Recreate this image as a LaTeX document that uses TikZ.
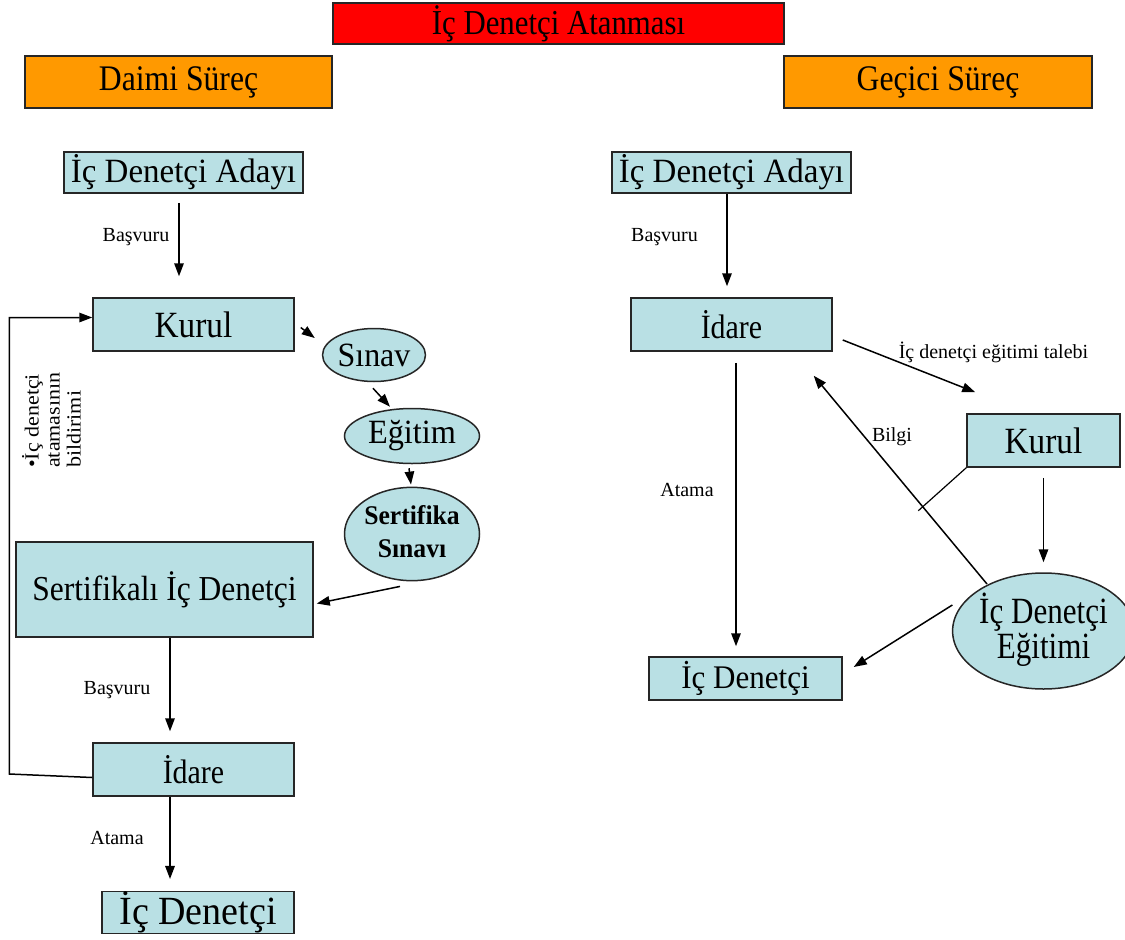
\documentclass[tikz,border=0pt]{standalone}
\usepackage{graphicx}
\usepackage{fontspec}
\setmainfont{Liberation Serif}
\usetikzlibrary{arrows.meta,shapes.geometric}
\definecolor{boxblue}{RGB}{185,224,228}
\definecolor{orng}{RGB}{255,153,0}
\newcommand\txt[3]{\fontsize{#1}{#1}\selectfont\scalebox{#2}[1]{#3}}
\newcommand\mtxt[4]{\fontsize{#1}{#2}\selectfont\scalebox{#3}[1]{\begin{tabular}{@{}c@{}}#4\end{tabular}}}
\begin{document}
\begin{tikzpicture}[x=1pt,y=-1pt,
  box/.style={draw=black!85,line width=1.5pt,fill=boxblue,inner sep=0pt},
  hdr/.style={draw=black!85,line width=1.5pt,inner sep=0pt},
  oval/.style={ellipse,draw=black!85,line width=1.5pt,fill=boxblue,inner sep=0pt},
  arr/.style={-{Triangle[length=13pt,width=9.5pt]},line width=1.5pt},
  lbl/.style={font=\fontsize{20}{20}\selectfont,inner sep=0pt}]
\useasboundingbox (0,0) rectangle (1125,940);

% headers
\node[hdr,fill=red,minimum width=451,minimum height=41] (title) at (558.5,23.5) {\txt{35}{0.88}{İç Denetçi Atanması}};
\node[hdr,fill=orng,minimum width=307,minimum height=52] (daimi) at (178.5,82) {\txt{36}{0.88}{Daimi Süreç}};
\node[hdr,fill=orng,minimum width=308,minimum height=52] (gecici) at (938,82) {\txt{36}{0.88}{Geçici Süreç}};

% left column
\node[box,minimum width=239,minimum height=41] (adayL) at (183.5,172.5) {\txt{34}{0.97}{İç Denetçi Adayı}};
\node[box,minimum width=201,minimum height=53] (kurulL) at (193.5,324.5) {\txt{37}{0.9}{Kurul}};
\node[oval,minimum width=77,minimum height=53] (sinav) at (374,355) {\txt{34}{0.94}{Sınav}};
\node[oval,minimum width=135,minimum height=55] (egitim) at (412,436) {\txt{34}{0.95}{Eğitim}};
\node[oval,minimum width=135,minimum height=68] (sert) at (412,534) {\bfseries\mtxt{27}{33}{0.95}{Sertifika\\Sınavı}};
\node[box,minimum width=297,minimum height=95] (sertL) at (164.5,589.5) {\txt{35}{0.9}{Sertifikalı İç Denetçi}};
\node[box,minimum width=201,minimum height=53] (idareL) at (193.5,769.5) {\txt{34}{0.88}{İdare}};
\node[box,minimum width=192,minimum height=41] (icL) at (198,912.5) {\txt{40}{0.95}{İç Denetçi}};

% right column
\node[box,minimum width=239,minimum height=41] (adayR) at (731.5,172.5) {\txt{34}{0.97}{İç Denetçi Adayı}};
\node[box,minimum width=201,minimum height=53] (idareR) at (731.5,324.5) {\txt{34}{0.88}{İdare}};
\node[box,minimum width=153,minimum height=53] (kurulR) at (1043.5,440.5) {\txt{37}{0.9}{Kurul}};
\node[oval,minimum width=153,minimum height=116] (egitimR) at (1043.5,631) {\mtxt{37}{35}{0.84}{İç Denetçi\\Eğitimi}};
\node[box,minimum width=193,minimum height=43] (icR) at (745.5,678.5) {\txt{33}{0.94}{İç Denetçi}};

% labels
\node[lbl] (bas1) at (136,237) {Başvuru};
\node[lbl] (bas2) at (117,690) {Başvuru};
\node[lbl] (atamaL) at (117,838) {Atama};
\node[lbl] (bas3) at (664.5,237) {Başvuru};
\node[lbl] (atamaR) at (687,490) {Atama};
\node[lbl] (bilgi) at (892,437) {Bilgi};
\node[lbl] (talep) at (993.5,352) {İç denetçi eğitimi talebi};
\node[inner sep=0pt,rotate=90,anchor=north west] (bildir) at (22,468)
  {\fontsize{20}{21}\selectfont\scalebox{1.1}[1]{\begin{tabular}{@{}l@{}}•İç denetçi\\atamasının\\bildirimi\end{tabular}}};

% left connectors
\draw[arr] ([shift={(-4.5,9)}]adayL.south) -- ([shift={(-14.5,-21)}]kurulL.north);
\draw[arr] ([shift={(6,3)}]kurulL.east) -- ([shift={(-7,-17)}]sinav.west);
\draw[arr] ([shift={(-1,6)}]sinav.south) -- ([shift={(-22,-1)}]egitim.north);
\draw[arr] ([shift={(-3,4)}]egitim.south) -- ([shift={(-1,-2)}]sert.north);
\draw[arr] ([shift={(-12,5)}]sert.south) -- ([shift={(3,14)}]sertL.east);
\draw[arr] ([shift={(5.5,0)}]sertL.south) -- ([shift={(-23.5,-11)}]idareL.north);
\draw[arr] ([shift={(-23.5,0)}]idareL.south) -- ([shift={(-28,-12)}]icL.north);
\draw[arr] ([shift={(0,8)}]idareL.west) -- ++(-83,-3.5) |- ([shift={(0,-7)}]kurulL.west);

% right connectors
\draw[arr] ([shift={(-4.5,0)}]adayR.south) -- ([shift={(-4.5,-11)}]idareR.north);
\draw[arr] ([shift={(10,15.5)}]idareR.east) -- ([shift={(9,-21)}]kurulR.north west);
\draw[arr] ([shift={(0,10)}]kurulR.south) -- ([shift={(0,-10)}]egitimR.north);
\draw[arr] ([shift={(-56.5,-47)}]egitimR.center) -- ([shift={(-19,24)}]idareR.south east);
\draw[line width=1.2pt] (kurulR.south west) -- ([shift={(-48,43)}]kurulR.south west);
\draw[arr] ([shift={(0.5,-26)}]egitimR.west) -- ([shift={(11,-11.5)}]icR.east);
\draw[arr] ([shift={(4.5,11)}]idareR.south) -- ([shift={(-9.5,-10)}]icR.north);
\end{tikzpicture}
\end{document}
